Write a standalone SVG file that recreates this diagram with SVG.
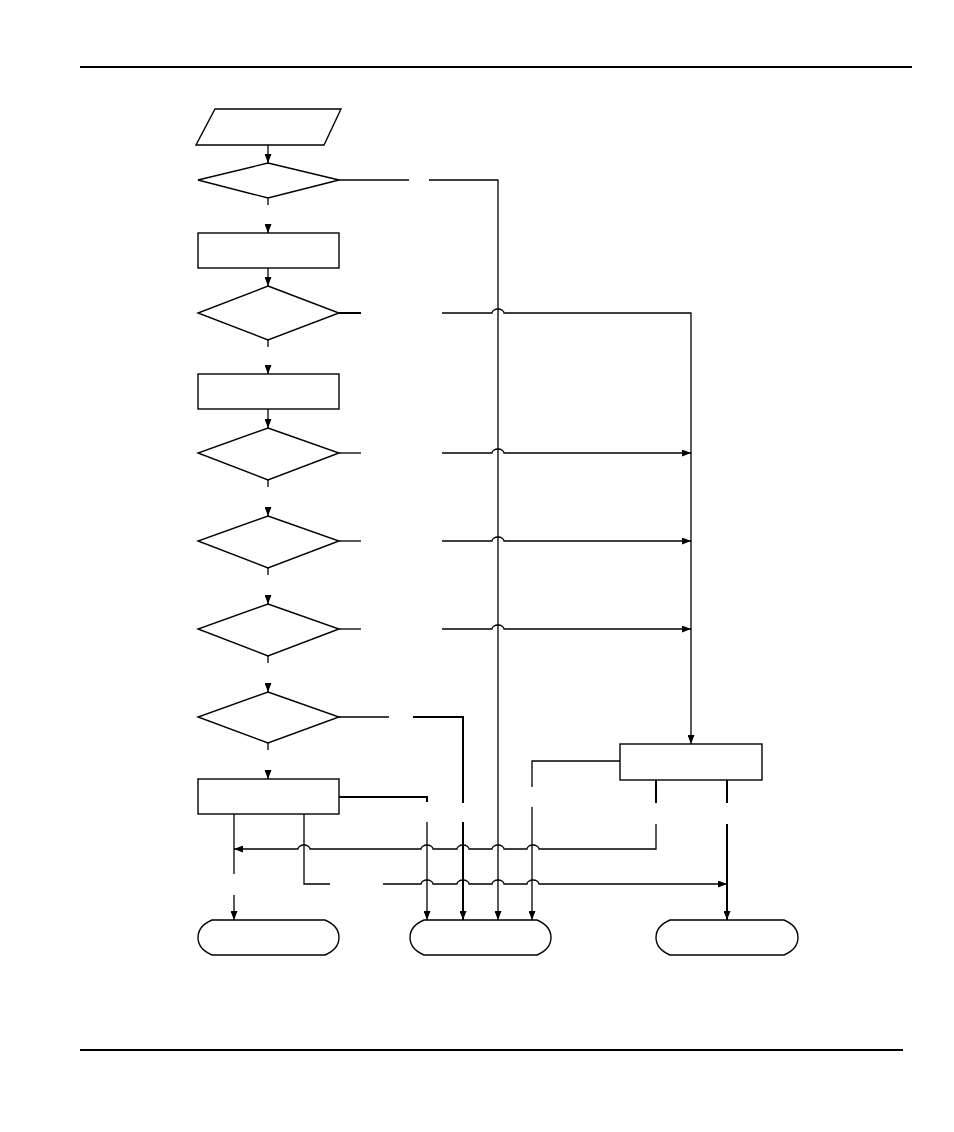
<svg xmlns="http://www.w3.org/2000/svg" width="954" height="1132" viewBox="0 0 954 1132">
<style>
.n{fill:#fff;stroke:#000;stroke-width:1.4}
.c{fill:none;stroke:#000;stroke-width:1.3}
.t{fill:none;stroke:#000;stroke-width:2}
.a{marker-end:url(#ah)}
</style>
<defs>
<marker id="ah" markerUnits="userSpaceOnUse" markerWidth="9" markerHeight="7" refX="9" refY="3.5" orient="auto">
<path d="M0,0 L9,3.5 L0,7 z" fill="#000"/>
</marker>
</defs>
<rect width="954" height="1132" fill="#fff"/>
<g id="page">
<line x1="80" y1="67" x2="912" y2="67" stroke="#000" stroke-width="2"/>
<line x1="80" y1="1050" x2="903" y2="1050" stroke="#000" stroke-width="2"/>
</g>
<g id="connectors">
<!-- main column -->
<path class="c a" d="M268,145 L268,163"/>
<path class="c" d="M268,198 L268,205"/>
<path class="c a" d="M268,225 L268,233"/>
<path class="c a" d="M268,268 L268,286"/>
<path class="c" d="M268,340 L268,347"/>
<path class="c a" d="M268,366 L268,374"/>
<path class="c a" d="M268,409 L268,428"/>
<path class="c" d="M268,480 L268,487"/>
<path class="c a" d="M268,508 L268,516"/>
<path class="c" d="M268,568 L268,575"/>
<path class="c a" d="M268,596 L268,604"/>
<path class="c" d="M268,656 L268,663"/>
<path class="c a" d="M268,684 L268,692"/>
<path class="c" d="M268,743 L268,750"/>
<path class="c a" d="M268,771 L268,779"/>
<!-- D1 right to middle terminal -->
<path class="c" d="M339,180 L409,180"/>
<path class="c a" d="M429,180 L498,180 L498,920"/>
<!-- D2 right to rect4 -->
<path class="t" d="M339,313 L361,313"/>
<path class="c a" d="M442,313 L492,313 A6 4 0 0 1 504,313 L691,313 L691,744"/>
<!-- D3-D5 right -->
<path class="c" d="M339,453 L361,453"/>
<path class="c a" d="M442,453 L492,453 A6 4 0 0 1 504,453 L691,453"/>
<path class="c" d="M339,541 L361,541"/>
<path class="c a" d="M442,541 L492,541 A6 4 0 0 1 504,541 L691,541"/>
<path class="c" d="M339,629 L361,629"/>
<path class="c a" d="M442,629 L492,629 A6 4 0 0 1 504,629 L691,629"/>
<!-- D6 right -->
<path class="c" d="M339,717 L389,717"/>
<path class="t" d="M413,717 L463,717 L463,803"/>
<path class="t a" d="M463,822 L463,920"/>
<!-- rect3 right -->
<path class="t" d="M339,797 L427,797 L427,802"/>
<path class="c a" d="M427,822 L427,920"/>
<!-- rect3 bottom left -->
<path class="c" d="M234,814 L234,874"/>
<path class="c a" d="M234,895 L234,920"/>
<!-- rect3 bottom right to terminal 3 line -->
<path class="c" d="M304,814 L304,884 L330,884"/>
<path class="c a" d="M383,884 L421,884 A6 4 0 0 1 433,884 L457,884 A6 4 0 0 1 469,884 L492,884 A6 4 0 0 1 504,884 L527,884 A6 4 0 0 1 539,884 L727,884"/>
<!-- rect4 left -->
<path class="c" d="M620,761 L532,761 L532,787"/>
<path class="c a" d="M532,807 L532,920"/>
<!-- rect4 bottom -->
<path class="t" d="M656,780 L656,803"/>
<path class="t" d="M727,780 L727,803"/>
<path class="c a" d="M656,824 L656,849 L539,849 A6 4 0 0 0 527,849 L504,849 A6 4 0 0 0 492,849 L469,849 A6 4 0 0 0 457,849 L433,849 A6 4 0 0 0 421,849 L310,849 A6 4 0 0 0 298,849 L234,849"/>
<path class="t a" d="M727,824 L727,920"/>
</g>
<g id="input"><polygon class="n" points="215,109 341,109 324,145 196,145"/></g>
<g id="d1"><polygon class="n" points="268,163 339,180 268,198 198,180"/></g>
<g id="r1"><rect class="n" x="198" y="233" width="141" height="35"/></g>
<g id="d2"><polygon class="n" points="268,286 339,313 268,340 198,313"/></g>
<g id="r2"><rect class="n" x="198" y="374" width="141" height="35"/></g>
<g id="d3"><polygon class="n" points="268,428 339,453 268,480 198,453"/></g>
<g id="d4"><polygon class="n" points="268,516 339,541 268,568 198,541"/></g>
<g id="d5"><polygon class="n" points="268,604 339,629 268,656 198,629"/></g>
<g id="d6"><polygon class="n" points="268,692 339,717 268,743 198,717"/></g>
<g id="r3"><rect class="n" x="198" y="779" width="141" height="35" stroke-width="2"/></g>
<g id="r4"><rect class="n" x="620" y="744" width="142" height="36"/></g>
<g id="t1"><path class="n" d="M212,920 L325,920 Q339,926 339,937.5 Q339,949 325,955 L212,955 Q198,949 198,937.5 Q198,926 212,920 Z"/></g>
<g id="t2"><path class="n" d="M424,920 L537,920 Q551,926 551,937.5 Q551,949 537,955 L424,955 Q410,949 410,937.5 Q410,926 424,920 Z"/></g>
<g id="t3"><path class="n" d="M670,920 L784,920 Q798,926 798,937.5 Q798,949 784,955 L670,955 Q656,949 656,937.5 Q656,926 670,920 Z"/></g>
</svg>
